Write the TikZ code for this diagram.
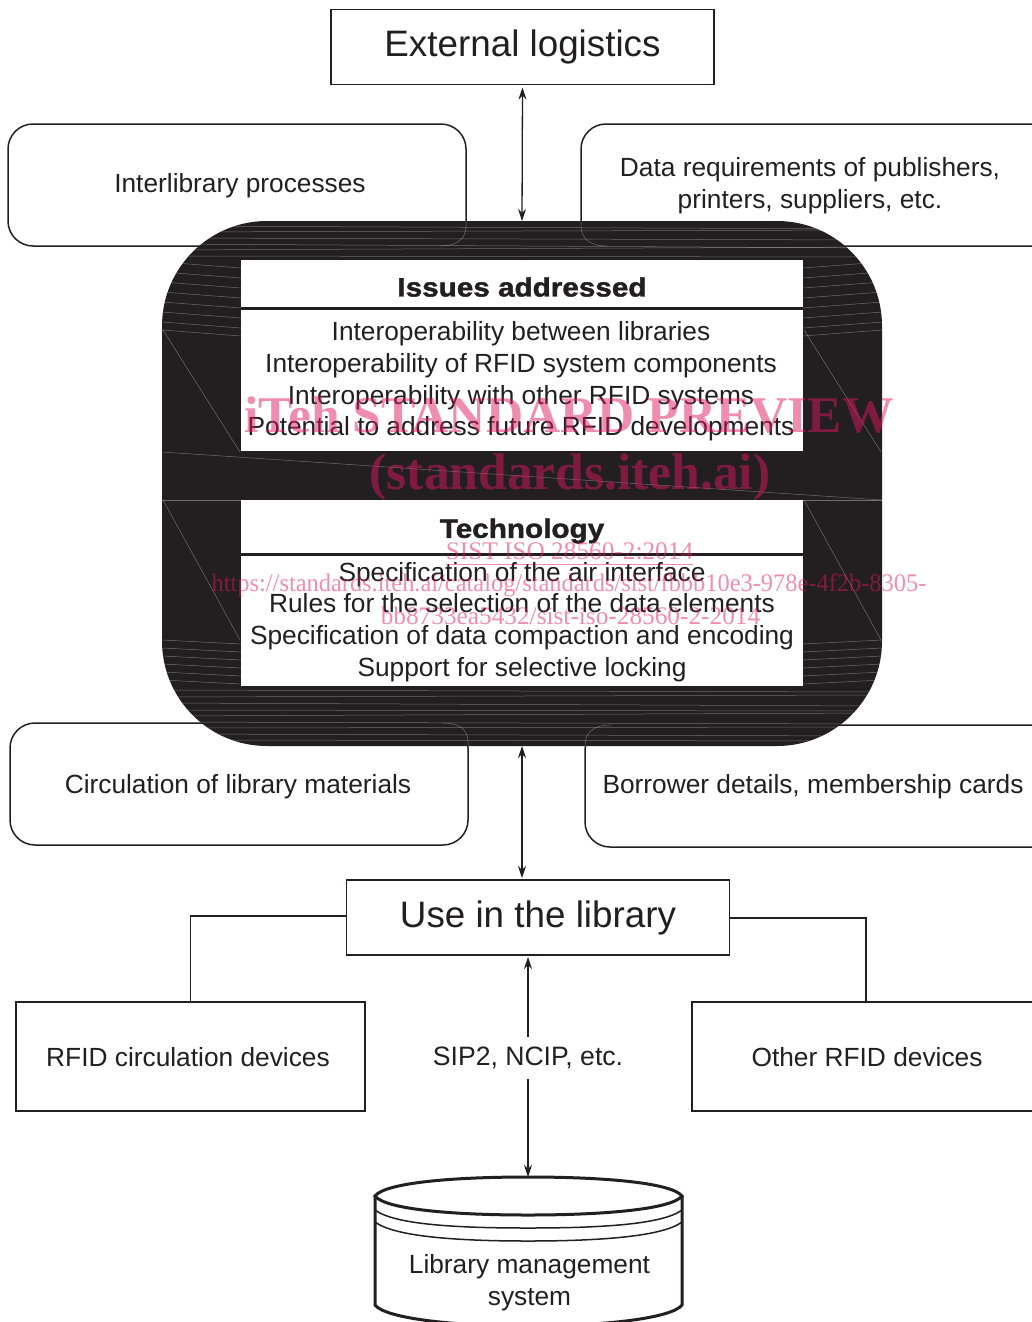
\documentclass[tikz,border=0pt]{standalone}
\usepackage{fontspec}
\usetikzlibrary{arrows.meta}
\setmainfont{Liberation Sans}
\newfontfamily\wm{Liberation Serif}
\newfontfamily\wmc[FakeStretch=.965]{Liberation Serif}
\newfontfamily\hd[FakeStretch=1.12,FakeBold=1.6]{Liberation Sans Bold}
\definecolor{ink}{RGB}{35,31,32}
\definecolor{wmark}{RGB}{224,23,94}
\newcommand{\fs}[2]{\fontsize{#1}{#2}\selectfont}
\tikzset{
  x=1pt,y=-1pt,
  every node/.style={text=ink,inner sep=0pt,outer sep=0pt},
  bigbox/.style={draw=ink,line width=1.8pt,fill=white,minimum width=383pt,minimum height=75pt,font=\fs{36.8}{44}},
  roundbox/.style={draw=ink,line width=1.5pt,fill=white,rounded corners=25pt,font=\fs{26.3}{31.7},align=center},
  devbox/.style={draw=ink,line width=2pt,fill=white,font=\fs{26.3}{31.7},align=center},
  listtext/.style={font=\fs{26.3}{31.7},align=center},
  heading/.style={font=\hd\fs{26.5}{32}},
  panel/.style={fill=white,draw=none},
  dbl/.style={draw=ink,line width=1.3pt,{Stealth[length=12pt,width=8pt]}-{Stealth[length=12pt,width=8pt]}},
  sgl/.style={draw=ink,line width=1.3pt,-{Stealth[length=12pt,width=8pt]}},
  link/.style={draw=ink,line width=1.9pt},
  streak/.style={draw=white,opacity=.35,line width=.5pt},
  wmbig/.style={font=\wm\bfseries\fs{51.5}{51},text=wmark,text opacity=.49},
  wmsmall/.style={font=\wm\fs{25.3}{30},text=wmark,text opacity=.49},
  wmnarrow/.style={font=\wmc\fs{25.3}{30},text=wmark,text opacity=.49}
}
\begin{document}
\begin{tikzpicture}
\useasboundingbox (0,0) rectangle (1031,1322);
% side boxes
\node[roundbox,minimum width=458pt,minimum height=122pt] (inter) at (237,185) {};
\node[font=\fs{26.3}{31.7}] (intert) at (240,186) {Interlibrary processes};
\node[roundbox,minimum width=480pt,minimum height=122pt] (data) at (821,185) {};
\node[listtext] (datat) at (810,186) {Data requirements of publishers,\\printers, suppliers, etc.};
\node[roundbox,minimum width=458pt,minimum height=122pt] (circ) at (239,784) {};
\node[font=\fs{26.3}{31.7}] (circt) at (238,787) {Circulation of library materials};
\node[roundbox,minimum width=480pt,minimum height=122pt] (borr) at (825,786) {};
\node[font=\fs{26.3}{31.7}] (borrt) at (813,787) {Borrower details, membership cards};
% dark frame
\node[fill=ink,rounded corners=105pt,minimum width=720pt,minimum height=525pt] (frame) at (522,483.5) {};
\begin{scope}
\clip[rounded corners=105pt] (162,221) rectangle (882,746);
\foreach \y/\d in {226/3,232/-2,238/2,244/4,250/-3,256/1} {\draw[streak] (162,\y) -- (882,\y+\d);}
\foreach \y/\d in {690/2,697/-2,703/3,710/1,716/-3,722/2,728/-1,734/2,740/1} {\draw[streak] (162,\y) -- (882,\y+\d);}
\foreach \y in {262,272,282,292,302,312,322,330} {
  \draw[streak] (162,\y) -- (241,\y+6);
  \draw[streak] (803,\y+6) -- (882,\y);}
\foreach \y in {640,648,656,664,672,680} {
  \draw[streak] (162,\y) -- (241,\y+4);
  \draw[streak] (803,\y+4) -- (882,\y);}
\draw[streak] (163,330) -- (240,452);
\draw[streak] (804,330) -- (881,452);
\draw[streak] (163,500) -- (240,640);
\draw[streak] (804,500) -- (881,640);
\draw[streak] (162,452) -- (882,500);
\draw[streak] (162,500) -- (241,500);
\draw[streak] (803,500) -- (882,500);
% outlines of the side boxes, faint through the dark frame
\draw[streak] (466,221) -- (466,226) .. controls (466,238) and (458,246) .. (440,246);
\draw[streak] (581,221) -- (581,226) .. controls (581,238) and (589,246) .. (607,246);
\draw[streak] (468,746) -- (468,742) .. controls (468,730) and (460,723) .. (442,723);
\draw[streak] (585,746) -- (585,745) .. controls (585,733) and (593,725) .. (611,725);
\end{scope}
% panels
\node[panel,minimum width=562pt,minimum height=191pt] (issues) at (522,355.5) {};
\node[panel,minimum width=562pt,minimum height=186pt] (tech) at (522,593) {};
\draw[ink,line width=3pt] (issues.west |- 0,308) -- (issues.east |- 0,308);
\draw[ink,line width=3pt] (tech.west |- 0,554) -- (tech.east |- 0,554);
\node[heading] (issuesh) at (522,287) {Issues addressed};
\node[listtext] (issuest) at (521,381.5) {Interoperability between libraries\\Interoperability of RFID system components\\Interoperability with other RFID systems\\Potential to address future RFID developments};
\node[heading] (techh) at (522,531) {Technology};
\node[listtext] (techt) at (522,622) {Specification of the air interface\\Rules for the selection of the data elements\\Specification of data compaction and encoding\\Support for selective locking};
% top and middle boxes
\node[bigbox] (ext) at (522.5,47) {External logistics};
\node[bigbox] (use) at (538,917.5) {Use in the library};
\draw[dbl] ([yshift=-3pt]ext.south) -- (frame.north);
\coordinate (useTop) at (use.north -| frame.south);
\draw[dbl] (frame.south) -- ([yshift=2pt]useTop);
% devices
\node[devbox,minimum width=349pt,minimum height=109pt] (rfid) at (190.5,1056.5) {};
\node[font=\fs{26.3}{31.7}] (rfidt) at (188,1057) {RFID circulation devices};
\node[devbox,minimum width=368pt,minimum height=109pt] (other) at (876,1056.5) {};
\node[font=\fs{26.3}{31.7}] (othert) at (867,1057) {Other RFID devices};
\coordinate (lft) at (use.west |- 0,916);
\coordinate (rgt) at (use.east |- 0,918);
\draw[link] (lft) -| (rfid.north);
\coordinate (othertop) at (866,1002);
\draw[link] (rgt) -| (othertop);
% database
\coordinate (dbtop) at (528,1177);
\draw[ink,line width=3pt,fill=white] (375,1196) -- (375,1305) .. controls (385,1318) and (450,1326) .. (528,1326) .. controls (606,1326) and (672,1318) .. (682,1305) -- (682,1196);
\draw[ink,line width=1.5pt] (375,1210) .. controls (395,1225) and (460,1228) .. (528,1228) .. controls (596,1228) and (662,1225) .. (682,1210);
\draw[ink,line width=1.5pt] (375,1222) .. controls (395,1237) and (460,1241) .. (528,1241) .. controls (596,1241) and (662,1237) .. (682,1222);
\draw[ink,line width=3pt,fill=white] (375,1196) .. controls (385,1183) and (450,1177) .. (dbtop) .. controls (606,1177) and (672,1183) .. (682,1196) .. controls (672,1209) and (606,1215) .. (528,1215) .. controls (450,1215) and (385,1209) .. (375,1196) -- cycle;
\node[listtext] (dbt) at (529.5,1283) {Library management\\system};
% bottom link
\node[font=\fs{26.6}{31.7}] (sip) at (528,1058) {SIP2, NCIP, etc.};
\coordinate (useBot) at (528,955);
\draw[sgl] ([yshift=10pt]sip.north) -- ([yshift=-2pt]useBot);
\draw[sgl] ([yshift=-10pt]sip.south) -- (dbtop);
% watermark
\node[wmbig] (w1) at (569,415) {iTeh STANDARD PREVIEW};
\node[wmbig] (w2) at (570,477) {(standards.iteh.ai)};
\node[wmsmall] (w3) at (569.5,551) {SIST ISO 28560-2:2014};
\draw[wmark,opacity=.49,line width=1pt] (w3.west |- 0,564) -- (w3.east |- 0,564);
\node[wmnarrow] (w4) at (569,585) {https://standards.iteh.ai/catalog/standards/sist/fbbb10e3-978e-4f2b-8305-};
\node[wmsmall] (w5) at (570.5,616) {bb8733ea5432/sist-iso-28560-2-2014};
\end{tikzpicture}
\end{document}
